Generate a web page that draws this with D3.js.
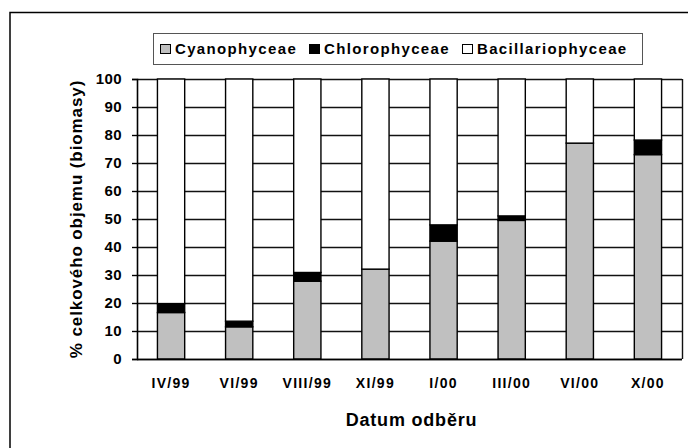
<!DOCTYPE html>
<html><head><meta charset="utf-8">
<script src="https://cdn.jsdelivr.net/npm/d3@7"></script>
<style>
html,body{margin:0;padding:0;background:#fff;}
svg text{font-family:Arial,"Liberation Sans",sans-serif;font-weight:bold;fill:#000;}
</style></head><body>
<svg id="c" width="688" height="448"></svg>
<script>
const categories = ["IV/99","VI/99","VIII/99","XI/99","I/00","III/00","VI/00","X/00"];
const cyanophyceae = [16.6, 11.5, 27.8, 32.1, 42.1, 49.5, 77.1, 73.0];
const chlorophyceae = [3.2, 2.0, 3.1, 0, 5.8, 1.6, 0, 5.2];
const bacillariophyceae = categories.map((c,i)=> +(100 - cyanophyceae[i] - chlorophyceae[i]).toFixed(1));
const seriesNames = ["Cyanophyceae","Chlorophyceae","Bacillariophyceae"];
const seriesColors = ["#c0c0c0","#000000","#ffffff"];
const yTicks = [0,10,20,30,40,50,60,70,80,90,100];

const svg = d3.select("#c");
const FONT = "Arial,'Liberation Sans',sans-serif";
svg.append("rect").attr("x",10).attr("y",12.5).attr("width",700).attr("height",460)
  .attr("fill","#fff").attr("stroke","#000").attr("stroke-width",1.5);

const L=137, R=682, T=79, B=359;
const x = d3.scaleBand().domain(categories).range([L,R]).paddingInner(0.6).paddingOuter(0.3);
const y = d3.scaleLinear().domain([0,100]).range([B,T]);

svg.append("g").selectAll("line").data(yTicks).join("line")
  .attr("x1",L).attr("x2",R).attr("y1",d=>Math.round(y(d))+0.5).attr("y2",d=>Math.round(y(d))+0.5)
  .attr("stroke","#111").attr("stroke-width",1.4);
svg.append("line").attr("x1",R+0.5).attr("x2",R+0.5).attr("y1",T).attr("y2",B).attr("stroke","#111").attr("stroke-width",1.4);

const rows = categories.map((c,i)=>({cat:c, Cyanophyceae:cyanophyceae[i], Chlorophyceae:chlorophyceae[i], Bacillariophyceae:bacillariophyceae[i]}));
const stack = d3.stack().keys(seriesNames)(rows);
svg.append("g").selectAll("g").data(stack).join("g")
  .attr("fill",(d,i)=>seriesColors[i])
  .selectAll("rect").data(d=>d.filter(p=>p[1]-p[0]>0)).join("rect")
  .attr("x",d=>x(d.data.cat)).attr("width",x.bandwidth())
  .attr("y",d=>y(d[1])).attr("height",d=>y(d[0])-y(d[1]))
  .attr("stroke","#000").attr("stroke-width",1.4);

const yAxis = svg.append("g").attr("transform",`translate(${L},0)`)
  .call(d3.axisLeft(y).tickValues(yTicks).tickSize(5).tickPadding(10));
yAxis.select(".domain").attr("stroke","#000").attr("stroke-width",1.6);
yAxis.selectAll(".tick line").attr("stroke","#000").attr("stroke-width",1.4);
yAxis.selectAll("text").attr("font-size",15).attr("letter-spacing","0.4px").attr("font-family",FONT).attr("font-weight","bold");

const xAxis = svg.append("g").attr("transform",`translate(0,${B})`)
  .call(d3.axisBottom(x).tickSize(0).tickPadding(19));
xAxis.select(".domain").attr("stroke","#000").attr("stroke-width",1.6).attr("d",`M${L},0.5H${R}`);
xAxis.selectAll("text").attr("font-size",14).attr("letter-spacing","1.3px").attr("font-family",FONT).attr("font-weight","bold");

svg.append("text").attr("x",(L+R)/2+2).attr("y",426).attr("text-anchor","middle")
  .attr("font-size",18).attr("letter-spacing","0.8px").text("Datum odběru");
svg.append("text").attr("transform",`translate(82,${(T+B)/2}) rotate(-90)`).attr("text-anchor","middle")
  .attr("font-size",17).attr("letter-spacing","0.9px").text("% celkového objemu (biomasy)");

const lg = svg.append("g");
lg.append("rect").attr("x",153.5).attr("y",33.5).attr("width",489).attr("height",31)
  .attr("fill","#fff").attr("stroke","#555").attr("stroke-width",1);
const legX = [160, 309, 462];
seriesNames.forEach((n,i)=>{
  lg.append("rect").attr("x",legX[i]+0.5).attr("y",44.5).attr("width",10).attr("height",9)
    .attr("fill",seriesColors[i]).attr("stroke","#000").attr("stroke-width",1);
  lg.append("text").attr("x",legX[i]+15).attr("y",54).attr("font-size",15).attr("letter-spacing","1.35px").text(n);
});
</script>
</body></html>
